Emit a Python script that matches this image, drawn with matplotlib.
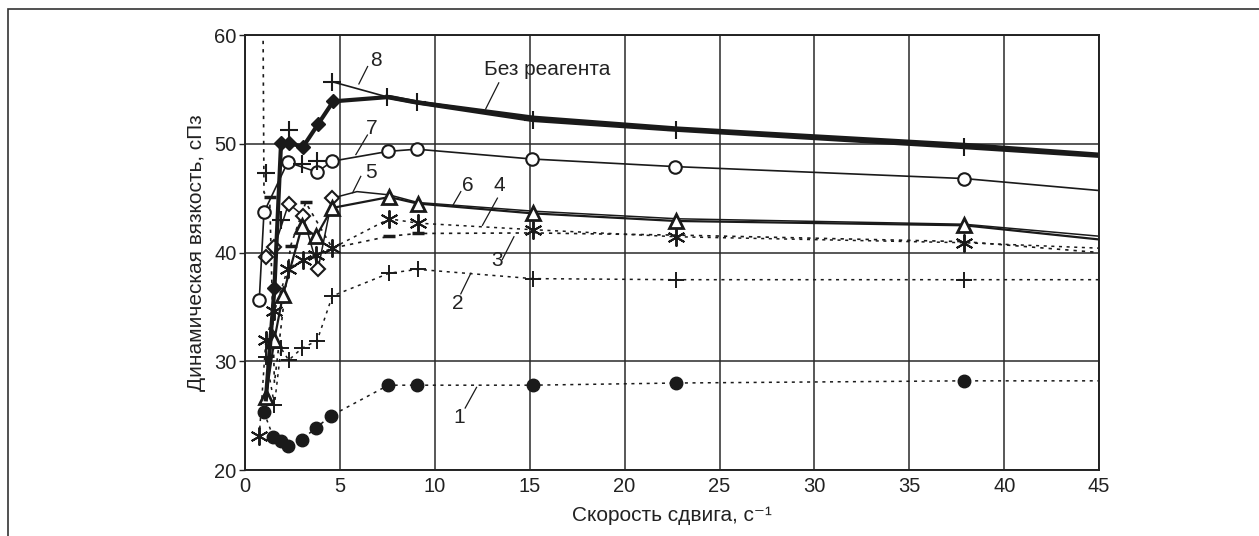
import numpy as np
import matplotlib
matplotlib.use("Agg")
from matplotlib import pyplot as plt
from matplotlib.patches import Rectangle

plt.rcParams['font.family'] = ['Liberation Sans', 'DejaVu Sans']

# 1 - filled circles, dotted
x1 = [1.0, 1.5, 1.9, 2.25, 3.0, 3.75, 4.55, 7.55, 9.05, 15.15, 22.7, 37.9, 45]
y1 = [25.3, 23.0, 22.7, 22.2, 22.8, 23.9, 25.0, 27.8, 27.8, 27.8, 28.0, 28.2, 28.2]

# 2 - plus, dotted
x2 = [1.1, 1.55, 1.9, 2.3, 3.0, 3.8, 4.6, 7.6, 9.1, 15.15, 22.7, 37.9, 45]
y2 = [30.4, 26.0, 31.2, 30.1, 31.2, 31.9, 36.0, 38.1, 38.45, 37.6, 37.5, 37.5, 37.5]

# 3 - dash marks, dotted
x3 = [0.95, 1.0, 1.3, 1.55, 2.4, 3.2, 4.6, 7.6, 9.1, 15.2, 22.8, 37.9, 45]
y3 = [61.0, 45.5, 45.1, 28.0, 40.6, 44.6, 40.4, 41.5, 41.75, 41.8, 41.6, 41.0, 40.0]

# 4 - asterisks, dotted
x4 = [0.75, 1.1, 1.55, 2.25, 3.05, 3.75, 4.6, 7.6, 9.1, 15.15, 22.7, 37.9, 45]
y4 = [23.1, 32.0, 34.6, 38.5, 39.3, 39.8, 40.4, 43.1, 42.7, 42.1, 41.45, 40.9, 40.4]

# 5 - open diamonds, solid
x5 = [1.1, 1.55, 2.3, 3.05, 3.85, 4.6, 5.9, 7.6, 9.1, 15.2, 22.8, 37.9, 45]
y5 = [39.6, 40.5, 44.5, 43.4, 38.5, 45.0, 45.6, 45.3, 44.6, 43.8, 43.1, 42.6, 41.5]

# 6 - open triangles, solid
x6 = [1.1, 1.55, 2.0, 3.0, 3.75, 4.6, 7.6, 9.1, 15.15, 22.7, 37.9, 45]
y6 = [26.7, 32.0, 36.1, 42.4, 41.5, 44.1, 45.1, 44.5, 43.6, 42.9, 42.5, 41.2]

# 7 - open circles, solid
x7 = [0.75, 1.0, 2.25, 3.8, 4.6, 7.55, 9.05, 15.1, 22.65, 37.9, 45]
y7 = [35.6, 43.7, 48.3, 47.4, 48.4, 49.3, 49.5, 48.6, 47.9, 46.8, 45.7]

# 8 - filled diamonds, thick
x8 = [1.1, 1.55, 1.9, 2.3, 3.05, 3.85, 4.65, 7.6, 9.1, 15.2, 22.8, 37.9, 45]
y8 = [26.5, 36.7, 50.1, 50.1, 49.7, 51.8, 53.9, 54.3, 53.8, 52.4, 51.4, 49.9, 49.0]

# no reagent - plus, thick
x0 = [1.1, 1.9, 2.3, 3.0, 3.8, 4.6, 7.5, 9.05, 15.15, 22.7, 37.9, 45]
y0 = [47.3, 43.0, 51.3, 48.1, 48.4, 55.7, 54.3, 53.8, 52.2, 51.3, 49.7, 48.9]

k = '#1a1a1a'

fig = plt.figure(figsize=(12.59, 5.36), dpi=100)
ax = fig.add_axes([0.1946, 0.1231, 0.6784, 0.8116])

# outer frame
fig.patches.append(Rectangle((8 / 1259, -0.5), 2, 1.5 - 9 / 536,
                             transform=fig.transFigure, fill=False,
                             edgecolor='#333333', linewidth=1.2))

ax.plot(x1, y1, color=k, lw=1.1, ls=(0, (2, 3)), marker='o', ms=9,
        mfc=k, mec=k, markevery=list(range(12)))
ax.plot(x2, y2, color=k, lw=1.1, ls=(0, (2, 3)), marker='+', ms=12,
        mew=1.4, markevery=list(range(12)))
ax.plot(x3, y3, color=k, lw=1.2, ls=(0, (2, 3)), marker='_', ms=8,
        mew=2.5, markevery=[2, 4, 5, 7, 8])
ax.plot(x4, y4, color=k, lw=1.1, ls=(0, (2, 3)), marker=(6, 2, 0), ms=13,
        mew=1.4, markevery=list(range(12)))
ax.plot(x5, y5, color=k, lw=1.1, marker='D', ms=7.5, mfc='white', mec=k,
        mew=1.5, markevery=[0, 1, 2, 3, 4, 5])
ax.plot(x6, y6, color=k, lw=1.6, marker='^', ms=10, mfc='white', mec=k,
        mew=2.0, markevery=list(range(11)))
ax.plot(x7, y7, color=k, lw=1.2, marker='o', ms=9, mfc='white', mec=k,
        mew=1.5, markevery=list(range(10)))
ax.plot(x8, y8, color=k, lw=3.0, marker='D', ms=7.5, mfc=k, mec=k,
        markevery=[1, 2, 3, 4, 5, 6])
ax.plot(x0[5:], y0[5:], color=k, lw=1.2)
ax.plot(x0[6:], y0[6:], color=k, lw=3.2)
ax.plot(x0[:-1], y0[:-1], color=k, ls='none', marker='+', ms=13, mew=1.5)

# series labels with leaders
labels = [
    ('Без реагента', 12.6, 56.8, (13.37, 55.6), (12.68, 53.2)),
    ('8', 6.9, 57.7, (6.46, 57.1), (6.0, 55.5)),
    ('7', 6.7, 51.4, (6.45, 50.8), (5.84, 49.0)),
    ('5', 6.63, 47.4, (6.1, 47.0), (5.67, 45.5)),
    ('6', 11.72, 46.2, (11.37, 45.6), (10.93, 44.27)),
    ('4', 13.38, 46.2, (13.3, 45.0), (12.51, 42.5)),
    ('3', 13.3, 39.3, (13.56, 39.37), (14.17, 41.45)),
    ('2', 11.19, 35.3, (11.37, 36.2), (11.9, 38.1)),
    ('1', 11.3, 24.8, (11.6, 25.7), (12.2, 27.6)),
]
for txt, tx, ty, p1, p2 in labels:
    ha = 'left' if len(txt) > 1 else 'center'
    ax.text(tx, ty, txt, fontsize=15, ha=ha, va='center', color='#222222')
    ax.plot([p1[0], p2[0]], [p1[1], p2[1]], color=k, lw=0.9)

ax.set_xlim(0, 45)
ax.set_ylim(20, 60)
ax.set_xticks(np.arange(0, 46, 5))
ax.set_yticks(np.arange(20, 61, 10))
ax.grid(True, color='#2a2a2a', lw=1.1)
ax.set_axisbelow(True)
for sp in ax.spines.values():
    sp.set_color('#222222')
    sp.set_linewidth(1.4)
ax.tick_params(axis='both', labelsize=14.5, colors='#222222', length=4,
               width=1.0, direction='out')
ax.tick_params(axis='x', length=0, pad=5)
ax.tick_params(axis='y', pad=2)

ax.set_xlabel('Скорость сдвига, с⁻¹', fontsize=15, color='#222222', labelpad=7)
ax.set_ylabel('Динамическая вязкость, сПз', fontsize=15, color='#222222',
              labelpad=6)

plt.savefig('out.png', dpi=100)
